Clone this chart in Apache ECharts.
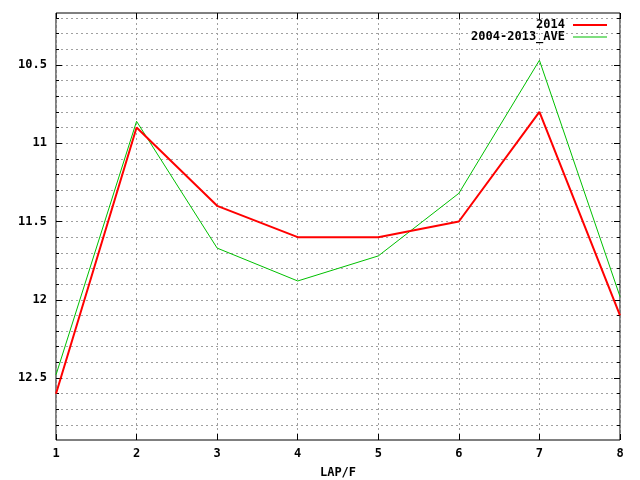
<!DOCTYPE html>
<html>
<head>
<meta charset="utf-8">
<script src="https://cdn.jsdelivr.net/npm/echarts@6/dist/echarts.min.js"></script>
<style>html,body{margin:0;padding:0;background:#fff}#c{width:640px;height:480px}</style>
</head>
<body>
<div id="c"></div>
<script>
var laps = [1, 2, 3, 4, 5, 6, 7, 8];
var series2014 = [12.6, 10.9, 11.4, 11.6, 11.6, 11.5, 10.8, 12.1];
var seriesAve = [12.48, 10.86, 11.67, 11.88, 11.72, 11.32, 10.47, 11.98];
var yMajorTicks = [10.5, 11, 11.5, 12, 12.5];
var yMinorTicks = [10.2, 10.3, 10.4, 10.5, 10.6, 10.7, 10.8, 10.9, 11, 11.1, 11.2, 11.3, 11.4, 11.5, 11.6, 11.7, 11.8, 11.9, 12, 12.1, 12.2, 12.3, 12.4, 12.5, 12.6, 12.7, 12.8];
var xTicks = [1, 2, 3, 4, 5, 6, 7, 8];

var Y_MIN = 10.168, Y_MAX = 12.896;
var FONT = 'DejaVu Sans Mono';
var gridLine = {show: true, lineStyle: {color: '#a0a0a0', type: [2, 3], width: 1}};

function pairs(vals) { return laps.map(function (x, i) { return [x, vals[i]]; }); }

function yAxisDef(opts) {
  var base = {
    type: 'value', inverse: true, min: Y_MIN, max: Y_MAX,
    axisLine: {show: false},
    splitLine: {show: false},
    axisLabel: {show: false},
    axisTick: {show: true, inside: true, length: 3, lineStyle: {color: '#000'}, customValues: yMinorTicks}
  };
  return Object.assign(base, opts);
}

var chart = echarts.init(document.getElementById('c'), null, {renderer: 'canvas'});
chart.setOption({
  animation: false,
  backgroundColor: '#fff',
  grid: {left: 56, right: 20, top: 13, bottom: 40, outerBoundsMode: 'none', containLabel: false,
         show: true, borderColor: '#000', borderWidth: 1, backgroundColor: 'transparent'},
  legend: {
    orient: 'vertical', right: 28, top: 14, align: 'right',
    itemWidth: 34, itemHeight: 2, itemGap: 0, symbolKeepAspect: true,
    textStyle: {fontFamily: FONT, fontSize: 12, lineHeight: 12, fontWeight: 'bold', color: '#000', padding: [0, 3, 0, 0]},
    data: [
      {name: '2014', icon: 'path://M0,0 H34 V2 H0 Z'},
      {name: '2004-2013_AVE', icon: 'path://M0,0 H34 V1 H0 Z'}
    ]
  },
  xAxis: [
    {
      type: 'value', min: 1, max: 8, interval: 1, position: 'bottom',
      name: 'LAP/F', nameLocation: 'middle', nameGap: 27,
      nameTextStyle: {fontFamily: FONT, fontSize: 12, fontWeight: 'bold', color: '#000'},
      axisLine: {show: false},
      axisTick: {show: true, inside: true, length: 6, lineStyle: {color: '#000'}, customValues: xTicks},
      axisLabel: {fontFamily: FONT, fontSize: 12, fontWeight: 'bold', color: '#000', margin: 8, customValues: xTicks},
      splitLine: gridLine
    },
    {
      type: 'value', min: 1, max: 8, interval: 1, position: 'top',
      axisLine: {show: false},
      axisTick: {show: true, inside: true, length: 6, lineStyle: {color: '#000'}},
      axisLabel: {show: false},
      splitLine: {show: false}
    }
  ],
  yAxis: [
    yAxisDef({
      position: 'left',
      axisTick: {show: true, inside: true, length: 6, lineStyle: {color: '#000'}, customValues: yMajorTicks},
      axisLabel: {show: true, fontFamily: FONT, fontSize: 12, fontWeight: 'bold', color: '#000', margin: 9, customValues: yMajorTicks}
    }),
    yAxisDef({position: 'left', splitLine: gridLine}),
    yAxisDef({
      position: 'right',
      axisTick: {show: true, inside: true, length: 6, lineStyle: {color: '#000'}, customValues: yMajorTicks}
    }),
    yAxisDef({position: 'right'})
  ],
  series: [
    {
      name: '2014', type: 'line', data: pairs(series2014), xAxisIndex: 0, yAxisIndex: 0,
      symbol: 'none', lineStyle: {color: '#ff0000', width: 2}, itemStyle: {color: '#ff0000'}, z: 3
    },
    {
      name: '2004-2013_AVE', type: 'line', data: pairs(seriesAve), xAxisIndex: 0, yAxisIndex: 0,
      symbol: 'none', lineStyle: {color: '#00c000', width: 1}, itemStyle: {color: '#00c000'}, z: 2
    }
  ]
});
</script>
</body>
</html>
